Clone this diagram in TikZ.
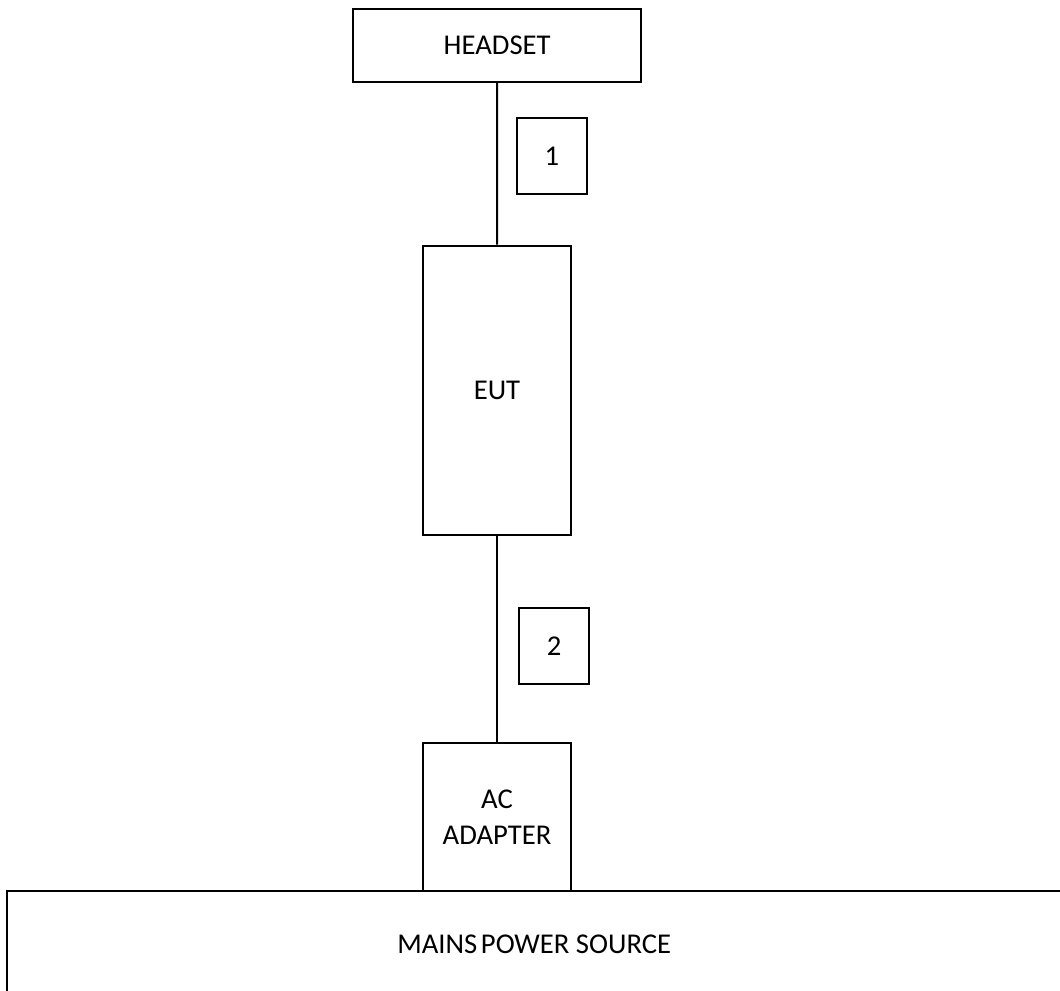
\documentclass[tikz,border=0pt]{standalone}
\usepackage{fontspec}
\setmainfont{Carlito}
\begin{document}
\begin{tikzpicture}[x=0.75pt,y=-0.75pt,
  box/.style={draw=black,line width=1.5pt,rectangle,inner sep=0pt,align=center,
    font=\fontsize{21.5}{27}\selectfont},
  wire/.style={draw=black,line width=1.5pt}]
\useasboundingbox (0,0) rectangle (1060,990);
\node[box,minimum width=287.7*0.75pt,minimum height=73*0.75pt] (headset) at (497.2,45.2) {HEADSET};
\node[box,minimum width=70.6*0.75pt,minimum height=76*0.75pt] (lab1) at (552,156.3) {1};
\node[box,minimum width=148.6*0.75pt,minimum height=289.6*0.75pt] (eut) at (497,390.5) {EUT};
\node[box,minimum width=70.3*0.75pt,minimum height=76*0.75pt] (lab2) at (554.2,645.7) {2};
\node[box,minimum width=148.3*0.75pt,minimum height=148*0.75pt] (ac) at (497,817.3) {AC\\ADAPTER};
\node[box,minimum width=1053.7*0.75pt,minimum height=106*0.75pt] (mains) at (534.2,944) {MAINS\hspace{-0.1em} POWER SOURCE};
\draw[wire] (headset.south) -- (eut.north);
\draw[wire] (eut.south) -- (ac.north);
\end{tikzpicture}
\end{document}
